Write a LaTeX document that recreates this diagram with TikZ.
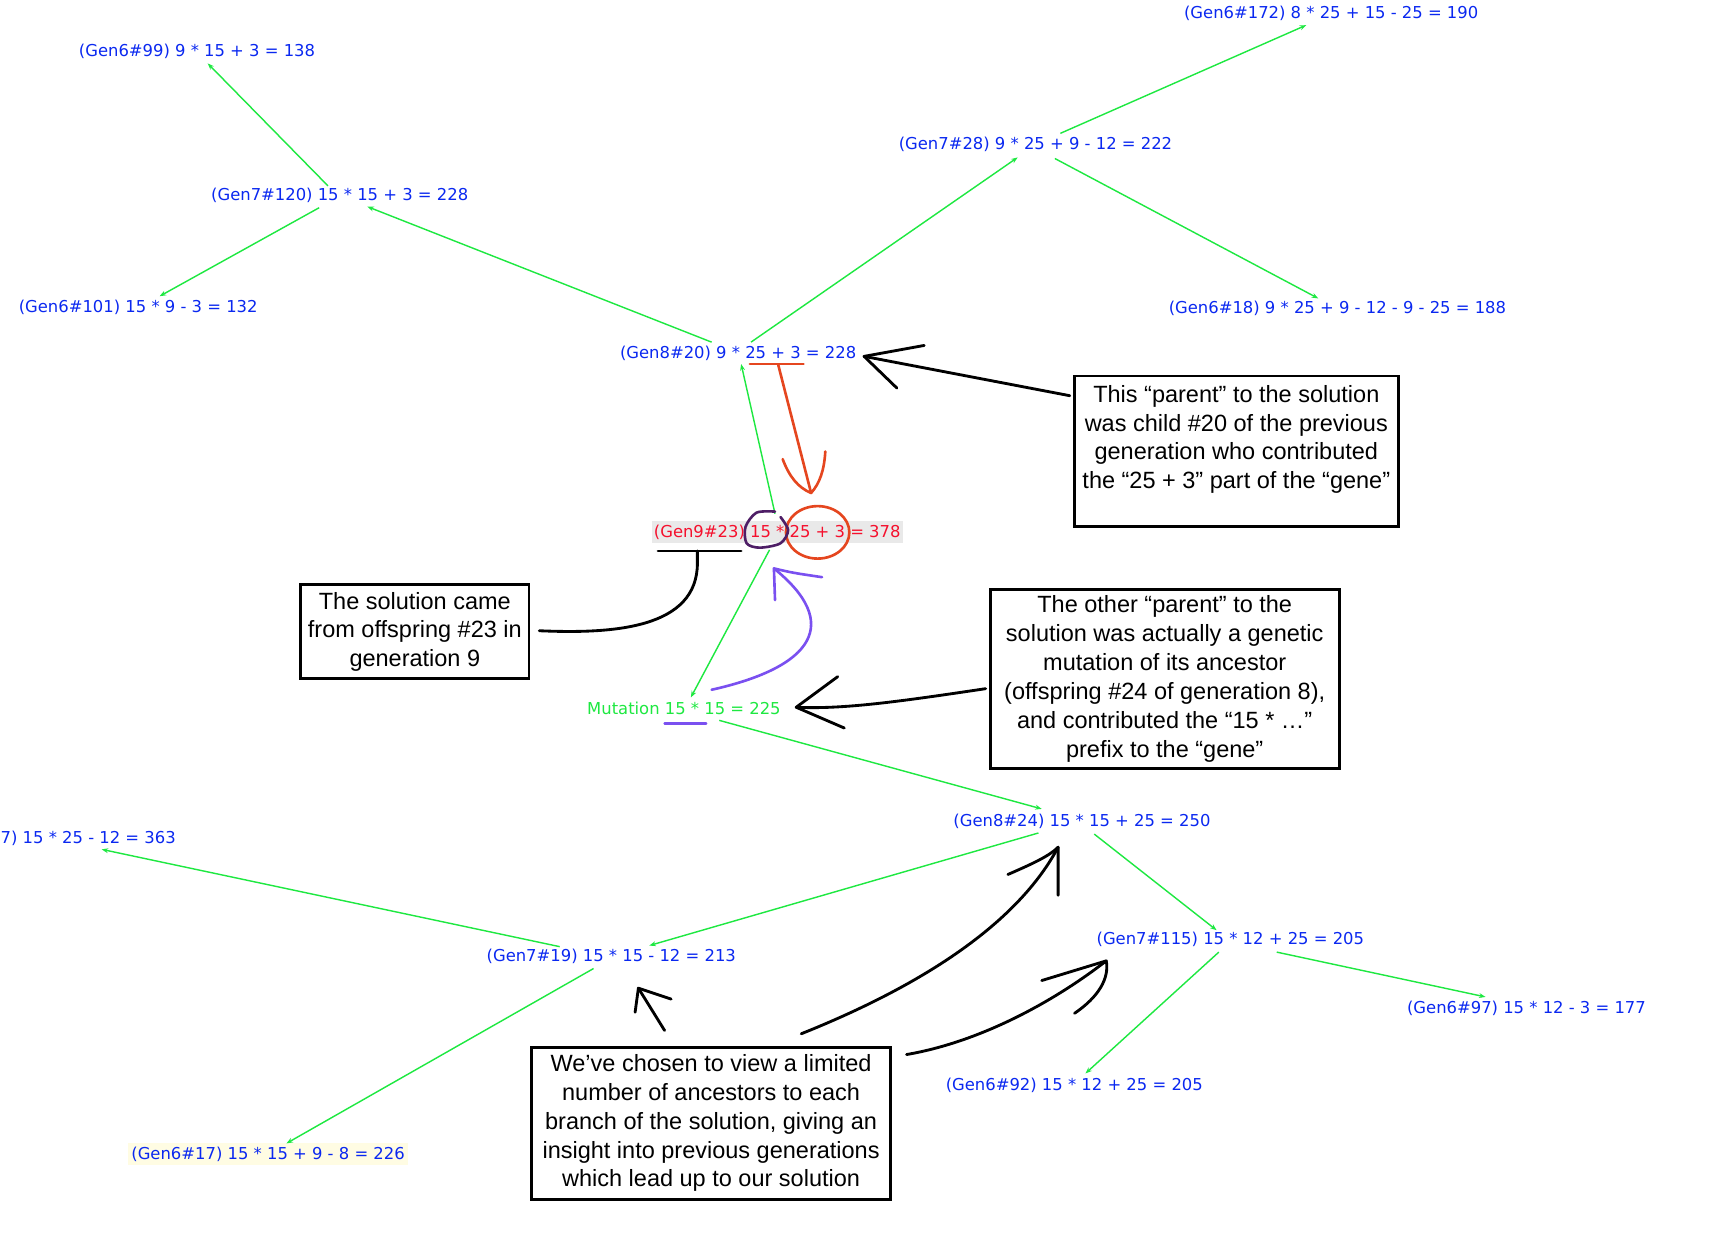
\documentclass[tikz,border=0pt]{standalone}
\usepackage{fontspec}
\setmainfont{Liberation Sans}
\newfontfamily\labelfont{DejaVu Sans}
\usetikzlibrary{arrows.meta,calc}

\definecolor{lblblue}{HTML}{0A28F0}
\definecolor{ggreen}{HTML}{1EE841}
\definecolor{solred}{HTML}{F5102D}
\definecolor{solbg}{HTML}{E9E9E9}
\definecolor{oldbg}{HTML}{FFFCE3}
\definecolor{orng}{HTML}{E5461F}
\definecolor{dpurple}{HTML}{4E1E66}
\definecolor{vio}{HTML}{7A50F0}

\begin{document}
\begin{tikzpicture}[x=1pt,y=-1pt,
  lbl/.style={anchor=west, inner sep=0pt, text=lblblue,
    font=\labelfont\fontsize{15}{18}\selectfont},
  gline/.style={draw=ggreen, line width=1.3pt,
    -{Stealth[length=6pt,width=4.5pt]}},
  note/.style={draw=black, line width=2.6pt, inner sep=0pt, align=center,
    font=\fontsize{21.5}{26.4}\selectfont},
  ink/.style={line width=2.6pt, line cap=round, line join=round},
  orngink/.style={ink, draw=orng, line width=2.4pt},
  purpink/.style={ink, draw=dpurple, line width=2.4pt},
  vioink/.style={ink, draw=vio, line width=2.4pt}]

\useasboundingbox (0,0) rectangle (1568,1133);

% ---------- ancestry labels ----------
\node[lbl] (g6a) at (72,47)   {(Gen6\#99) 9 * 15 + 3 = 138};
\node[lbl] (g7a) at (193,179) {(Gen7\#120) 15 * 15 + 3 = 228};
\node[lbl] (g6b) at (17,281)  {(Gen6\#101) 15 * 9 - 3 = 132};
\node[lbl] (g6c) at (1083,12) {(Gen6\#172) 8 * 25 + 15 - 25 = 190};
\node[lbl] (g7b) at (822,132) {(Gen7\#28) 9 * 25 + 9 - 12 = 222};
\node[lbl] (g6d) at (1069,282){(Gen6\#18) 9 * 25 + 9 - 12 - 9 - 25 = 188};
\node[lbl] (g8a) at (567,323) {(Gen8\#20) 9 * 25 + 3 = 228};
\node[lbl, fill=solbg, text=solred, inner xsep=2pt, inner ysep=3.3pt]
           (sol) at (596,487) {(Gen9\#23) 15 * 25 + 3 = 378};
\node[lbl, text=ggreen] (mut) at (537,648) {Mutation 15 * 15 = 225};
\node[lbl] (g8b) at (872,751) {(Gen8\#24) 15 * 15 + 25 = 250};
\node[lbl] (g7c) at (1003,859){(Gen7\#115) 15 * 12 + 25 = 205};
\node[lbl] (g6e) at (1287,922){(Gen6\#97) 15 * 12 - 3 = 177};
\node[lbl] (g6f) at (865,993) {(Gen6\#92) 15 * 12 + 25 = 205};
\node[lbl] (g7d) at (445,875) {(Gen7\#19) 15 * 15 - 12 = 213};
\node[lbl, anchor=east] (g6g) at (161,767) {7) 15 * 25 - 12 = 363};
\node[lbl, fill=oldbg, inner xsep=3pt, inner ysep=3.3pt]
           (g6h) at (117,1056) {(Gen6\#17) 15 * 15 + 9 - 8 = 226};

% ---------- parent links ----------
\draw[gline] ($(g7a.west)+(107,-9)$)  -- ($(g6a.west)+(118,11)$);
\draw[gline] ($(g7a.west)+(99,11)$)   -- ($(g6b.west)+(129,-10)$);
\draw[gline] ($(g8a.west)+(84,-10)$)  -- ($(g7a.west)+(143,10)$);
\draw[gline] ($(g8a.west)+(120,-10)$) -- ($(g7b.west)+(109,12)$);
\draw[gline] ($(g7b.west)+(148,-10)$) -- ($(g6c.west)+(112,11)$);
\draw[gline] ($(g7b.west)+(143,13)$)  -- ($(g6d.west)+(137,-9)$);
\draw[gline] ($(sol.west)+(113,-17)$) -- ($(g8a.west)+(111,10)$);
\draw[gline] ($(sol.west)+(108,16)$)  -- ($(mut.west)+(95,-10)$);
\draw[gline] ($(mut.west)+(121,11)$)  -- ($(g8b.west)+(81,-11)$);
\draw[gline] ($(g8b.west)+(78,11)$)   -- ($(g7d.west)+(149,-10)$);
\draw[gline] ($(g8b.west)+(129,12)$)  -- ($(g7c.west)+(110,-8)$);
\draw[gline] ($(g7d.west)+(67,-9)$)   -- ($(g6g.east)+(-68,10)$);
\draw[gline] ($(g7d.west)+(98,11)$)   -- ($(g6h.west)+(145,-10)$);
\draw[gline] ($(g7c.west)+(165,12)$)  -- ($(g6e.west)+(72,-10)$);
\draw[gline] ($(g7c.west)+(112,12)$)  -- ($(g6f.west)+(128,-11)$);

% ---------- explanatory boxes ----------
\node[note, minimum width=296pt, minimum height=138pt] (pbox) at (1131,413)
  {This “parent” to the solution\\was child \#20 of the previous\\generation who contributed\\the “25 + 3” part of the “gene”\\\mbox{}};
\node[note, minimum width=209pt, minimum height=86pt] (sbox) at (379.5,578)
  {The solution came\\from offspring \#23 in\\generation 9};
\node[note, minimum width=319pt, minimum height=164pt] (obox) at (1065.5,621)
  {The other “parent” to the\\solution was actually a genetic\\mutation of its ancestor\\(offspring \#24 of generation 8),\\and contributed the “15 * …”\\prefix to the “gene”};
\node[note, minimum width=329pt, minimum height=139pt] (cbox) at (650.5,1027.5)
  {We’ve chosen to view a limited\\number of ancestors to each\\branch of the solution, giving an\\insight into previous generations\\which lead up to our solution};

% ---------- hand-drawn pointers ----------
% from the "parent" box to Gen8#20
\coordinate (t1) at ($(g8a.east)+(7,3)$);
\draw[ink] ($(pbox.west)+(-3,-51)$) -- (t1);
\draw[ink] ($(t1)+(55,-10)$) -- (t1) -- ($(t1)+(30,29)$);

% from the "other parent" box to the mutation
\coordinate (t2) at ($(mut.east)+(14,-1)$);
\draw[ink] ($(obox.west)+(-3,9)$) .. controls ($(t2)+(93,-5)$) and ($(t2)+(43,2)$) .. (t2);
\draw[ink] ($(t2)+(38,-28)$) -- (t2) -- ($(t2)+(44,19)$);

% from the bottom box to Gen7#19
\coordinate (t3) at ($(g7d.west)+(139,29)$);
\draw[ink] ($(cbox.north)+(-42.5,-14)$) -- (t3);
\draw[ink] ($(t3)+(30,10)$) -- (t3) -- ($(t3)+(-3,22)$);

% from the bottom box to Gen8#24
\coordinate (s4) at ($(cbox.north)+(82.5,-11)$);
\coordinate (t4) at ($(g8b.west)+(96,24)$);
\draw[ink] (s4) .. controls ($(s4)+(100,-40)$) and ($(t4)+(-40,75)$) .. (t4);
\draw[ink] ($(t4)+(-46,25)$) .. controls ($(t4)+(-23,15)$) and ($(t4)+(-8,8)$) .. (t4) -- ($(t4)+(0,44)$);

% from the bottom box to Gen7#115
\coordinate (s5) at ($(cbox.north east)+(13,8)$);
\coordinate (t5) at ($(g7c.west)+(9,20)$);
\draw[ink] (s5) .. controls ($(s5)+(70,-12)$) and ($(t5)+(-45,35)$) .. (t5);
\draw[ink] ($(t5)+(-59,18)$) -- (t5) .. controls ($(t5)+(3,16)$) and ($(t5)+(-7,33)$) .. ($(t5)+(-29,48)$);

% solution marker: underline and curve to the box
\draw[ink] ($(sol.west)+(6,17)$) -- ($(sol.west)+(82,17)$);
\draw[ink] ($(sol.west)+(42,17)$) -- ($(sol.west)+(42,28)$)
  .. controls ($(sol.west)+(42,88)$) and ($(sbox.east)+(76,2)$) .. ($(sbox.east)+(8,-1)$);

% orange: "25 + 3" carried down from Gen8#20
\draw[orngink] ($(g8a.west)+(119,10)$) -- ($(g8a.west)+(168,10)$);
\coordinate (t6) at ($(sol.west)+(146,-36)$);
\draw[orngink] ($(g8a.west)+(145,11)$) -- (t6);
\draw[orngink] ($(t6)+(-26,-31)$) .. controls ($(t6)+(-20,-15)$) and ($(t6)+(-12,-5)$) .. (t6)
  .. controls ($(t6)+(8,-9)$) and ($(t6)+(12,-21)$) .. ($(t6)+(13,-38)$);
\draw[orngink] ($(sol.west)+(152,0)$) ellipse [x radius=29pt, y radius=24pt];

% purple loop round "15 *"
\begin{scope}[shift={(sol.west)}]
  \draw[purpink] plot[smooth] coordinates
    {(113,-19) (96,-18) (86,-5) (87,10) (99,14) (118,10) (125,-2) (118,-14)};
\end{scope}

% violet: "15 *" carried up from the mutation
\draw[vioink] ($(mut.west)+(71,14)$) -- ($(mut.west)+(109,14)$);
\coordinate (t7) at ($(sol.west)+(112,33)$);
\draw[vioink] ($(mut.west)+(114,-17)$) .. controls ($(mut.west)+(208,-38)$) and ($(sol.west)+(174,83)$) .. (t7);
\draw[vioink] ($(t7)+(1,29)$) -- (t7) .. controls ($(t7)+(17,4)$) .. ($(t7)+(44,8)$);

\end{tikzpicture}
\end{document}
